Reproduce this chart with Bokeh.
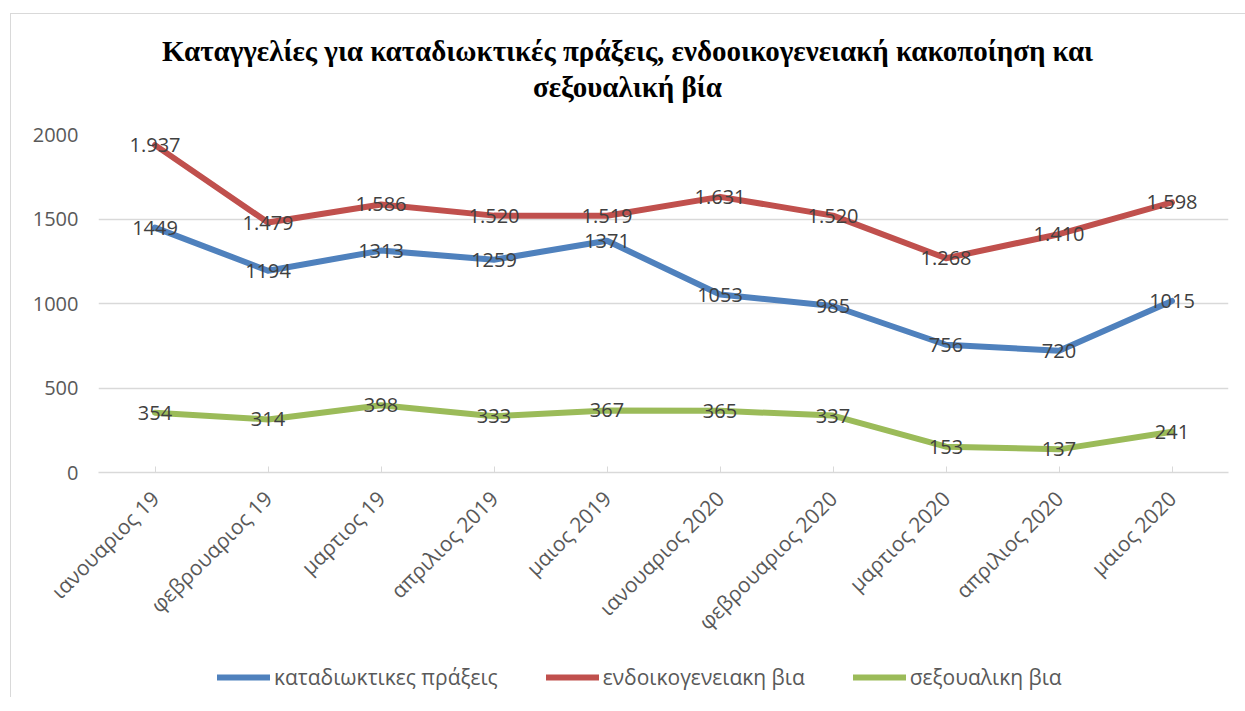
from bokeh.plotting import figure
from bokeh.layouts import column
from bokeh.models import (FactorRange, Range1d, FixedTicker, Legend, LegendItem,
                          Label, ColumnDataSource)
from bokeh.embed import file_html
from bokeh.resources import INLINE
from bokeh.core.properties import value
import math

categories = ["ιανουαριος 19", "φεβρουαριος 19", "μαρτιος 19", "απριλιος 2019",
              "μαιος 2019", "ιανουαριος 2020", "φεβρουαριος 2020", "μαρτιος 2020",
              "απριλιος 2020", "μαιος 2020"]
katadioktikes = [1449, 1194, 1313, 1259, 1371, 1053, 985, 756, 720, 1015]
endooikogeneiaki = [1937, 1479, 1586, 1520, 1519, 1631, 1520, 1268, 1410, 1598]
sexoualiki = [354, 314, 398, 333, 367, 365, 337, 153, 137, 241]
series_names = ["καταδιωκτικες πράξεις", "ενδοικογενειακη βια", "σεξουαλικη βια"]
y_ticks = [0, 500, 1000, 1500, 2000]
title_lines = ["Καταγγελίες για καταδιωκτικές πράξεις, ενδοοικογενειακή κακοποίηση και",
               "σεξουαλική βία"]

colors = ["#4F81BD", "#C0504D", "#9BBB59"]
FONT = "Open Sans"
W = 1234

# ---- title strip (its frame is aligned with the chart's frame by the column) ----
TH = 100
pt = figure(width=W, height=TH, x_range=Range1d(98, 1228), y_range=Range1d(114, 14),
            x_axis_type=None, y_axis_type=None, output_backend="svg",
            toolbar_location=None, min_border=0)
pt.outline_line_color = None
pt.grid.grid_line_color = None
for i, t in enumerate(title_lines):
    pt.add_layout(Label(x=627, y=50 + 36 * i, text=t, text_align="center",
                        text_baseline="middle", text_font="Liberation Serif",
                        text_font_style="bold", text_font_size="29px",
                        text_color="black"))

# ---- main chart ----
p = figure(x_range=FactorRange(*categories, range_padding=0),
           y_range=Range1d(0, 2000),
           width=W, height=540, output_backend="svg", toolbar_location=None,
           min_border_left=87, min_border_right=17, min_border_top=20,
           min_border_bottom=182)
p.outline_line_color = None
p.background_fill_color = "white"
p.border_fill_color = "white"

p.xgrid.grid_line_color = None
p.ygrid.grid_line_color = "#D9D9D9"
p.ygrid.grid_line_width = 1.5
p.yaxis.ticker = FixedTicker(ticks=y_ticks)
p.yaxis.axis_line_color = None
p.yaxis.major_tick_line_color = None
p.yaxis.minor_tick_line_color = None
p.yaxis.major_label_text_font = FONT
p.yaxis.major_label_text_font_size = "20px"
p.yaxis.major_label_text_color = "#595959"
p.yaxis.major_label_standoff = 14

p.xaxis.axis_line_color = "#D9D9D9"
p.xaxis.axis_line_width = 1.5
p.xaxis.major_tick_line_color = "#D9D9D9"
p.xaxis.major_tick_in = 6
p.xaxis.major_tick_out = 0
p.xaxis.major_label_orientation = math.pi / 4
p.xaxis.major_label_text_font = FONT
p.xaxis.major_label_text_font_size = "21px"
p.xaxis.major_label_text_color = "#595959"
p.xaxis.major_label_standoff = 22

all_series = [katadioktikes, endooikogeneiaki, sexoualiki]
for vals, c in zip(all_series, colors):
    p.line(categories, vals, line_color=c, line_width=6,
           line_join="round", line_cap="round")

label_texts = [
    [str(v) for v in katadioktikes],
    [f"{v:,}".replace(",", ".") for v in endooikogeneiaki],
    [str(v) for v in sexoualiki],
]
for vals, txts in zip(all_series, label_texts):
    src = ColumnDataSource(dict(x=categories, y=vals, t=txts))
    p.text(x="x", y="y", text="t", source=src, text_align="center",
           text_baseline="middle", text_font=value(FONT),
           text_font_size="20px", text_color="#404040")

# ---- legend strip ----
pl = figure(width=W, height=43, x_range=FactorRange(*categories, range_padding=0),
            y_range=Range1d(0, 2000), x_axis_type=None, y_axis_type=None,
            output_backend="svg", toolbar_location=None, min_border=0)
pl.outline_line_color = None
pl.grid.grid_line_color = None
leg_renderers = []
for vals, c in zip(all_series, colors):
    r = pl.line(categories, vals, line_color=c, line_width=6, line_cap="round")
    r.visible = False
    leg_renderers.append(r)
legend = Legend(items=[LegendItem(label=n, renderers=[r]) for n, r in zip(series_names, leg_renderers)],
                orientation="horizontal", location=(119, 6),
                border_line_color=None, background_fill_alpha=0,
                padding=0, margin=0, spacing=48, glyph_width=53, glyph_height=20,
                label_standoff=4, label_text_font=FONT, label_text_font_size="21px",
                label_text_color="#595959")
pl.add_layout(legend, "center")

layout = column(pt, p, pl, spacing=0,
                styles={"border-left": "1px solid #D9D9D9",
                        "border-top": "1px solid #D9D9D9",
                        "margin-left": "10px", "margin-top": "13px"})

open("out.html", "w").write(file_html(layout, INLINE))
